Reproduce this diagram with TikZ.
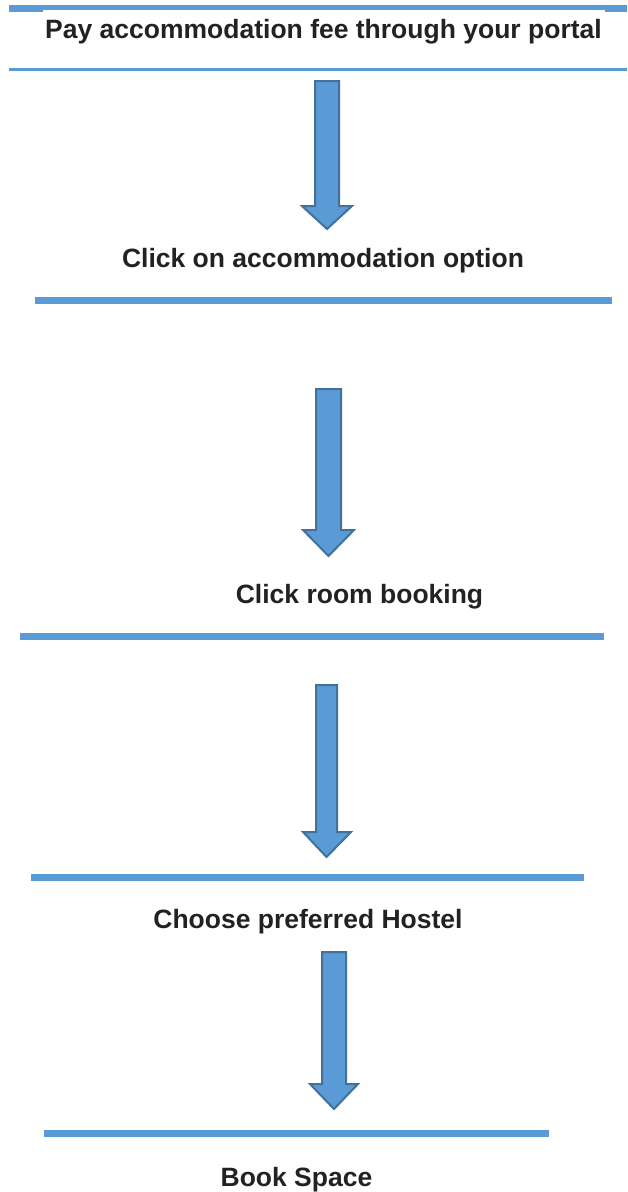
\documentclass[tikz,border=0pt]{standalone}
\usepackage{fontspec}
\setmainfont{Liberation Sans}
\definecolor{barblue}{HTML}{5B9BD5}
\definecolor{edgeblue}{HTML}{41719C}
\definecolor{txt}{HTML}{222222}
\tikzset{
  lbl/.style={font=\bfseries\fontsize{26.5}{30}\selectfont, text=txt, inner sep=0pt, anchor=base},
  bar/.style={fill=barblue, draw=none},
  blockarr/.style={fill=barblue, draw=edgeblue, line width=2pt, line join=miter}
}
% shaft left, shaft right, top, head start, head left, head right, tip
\newcommand\flowarrow[7]{%
  \path[blockarr] (#1,#3) -- (#2,#3) -- (#2,#4) -- (#6,#4) -- ({(#1+#2)/2},#7) -- (#5,#4) -- (#1,#4) -- cycle;}
\begin{document}
\begin{tikzpicture}[x=1pt,y=-1pt]
\useasboundingbox (0,0) rectangle (627,1192);
\fill[white] (0,0) rectangle (627,1192);
% top border
\path[bar] (9,5) rectangle (627,10);
\path[bar] (9,10) rectangle (43,12);
\path[bar] (605,10) rectangle (627,12);
% lines
\path[bar] (9,67.5) rectangle (627,71);
\path[bar] (35,296.5) rectangle (612,303.5);
\path[bar] (20,632.5) rectangle (604,639.5);
\path[bar] (31,873.5) rectangle (584,880.5);
\path[bar] (44,1129.5) rectangle (549,1136.5);
% texts
\node[lbl] (t1) at (323.5,38) {Pay accommodation fee through your portal};
\node[lbl] (t2) at (323,267) {Click on accommodation option};
\node[lbl] (t3) at (359.5,603) {Click room booking};
\node[lbl] (t4) at (308,928) {Choose preferred Hostel};
\node[lbl] (t5) at (296.5,1186) {Book Space};
% arrows
\flowarrow{315}{339}{81}{206}{302}{352}{229}
\flowarrow{316}{341}{389}{530}{303}{354}{556}
\flowarrow{316}{337}{685}{832}{303}{351}{857}
\flowarrow{322}{346}{952}{1084}{310}{358}{1109}
\end{tikzpicture}
\end{document}
